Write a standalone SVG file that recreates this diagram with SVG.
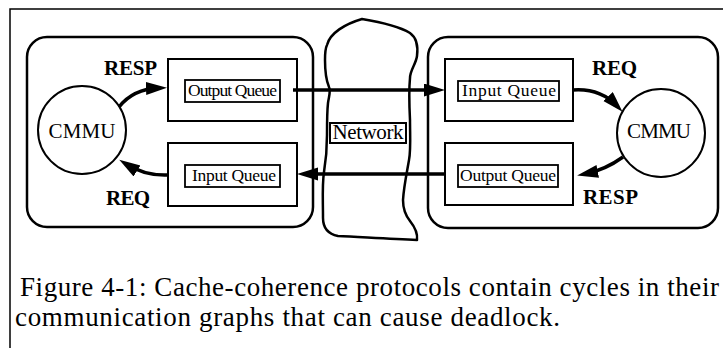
<svg xmlns="http://www.w3.org/2000/svg" width="723" height="348" viewBox="0 0 723 348">
<style>
.frame{fill:none;stroke:#000;stroke-width:1.5}
.group{fill:none;stroke:#000;stroke-width:2.5}
.box{fill:#fff;stroke:#000;stroke-width:2}
.ibox{fill:#fff;stroke:#000;stroke-width:1.8}
.circ{fill:#fff;stroke:#000;stroke-width:2}
.cloud{fill:#fff;stroke:#000;stroke-width:2.5;stroke-linejoin:round}
.conn{fill:none;stroke:#000;stroke-width:3.5;marker-end:url(#ah)}
.lbl{font-family:"Liberation Serif","Times New Roman",serif;font-size:21px;fill:#000;text-anchor:middle}
.bold{font-weight:bold}
.q{font-family:"Liberation Serif","Times New Roman",serif;font-size:17.5px;fill:#000;text-anchor:middle}
.cap{font-family:"Liberation Serif","Times New Roman",serif;font-size:27px;fill:#000}
</style>
<defs>
<marker id="ah" markerUnits="userSpaceOnUse" markerWidth="22" markerHeight="14" refX="13" refY="6.5" orient="auto">
<path d="M0,0 L21,6.5 L0,13 Z" fill="#000"/>
</marker>
</defs>
<rect width="723" height="348" fill="#fff"/>
<path class="frame" d="M10,348 L10,9 L723,9"/>

<g id="left-node">
<rect class="group" x="27" y="37" width="286" height="190" rx="20"/>
</g>
<g id="right-node">
<rect class="group" x="428" y="37" width="290" height="191" rx="20"/>
</g>

<g id="network">
<path class="cloud" d="M327,45 C330,33 345,24 362,19 C380,22 400,27 410,33 C417,38 418,48 417,56 C416,64 410,70 410,78 C409,88 409,100 410,120 C410,135 411,150 409,160 C407,172 404,185 403,200 C403,210 406,216 410,221 C414,226 418,232 417,240 C390,239 360,237 338,236 C328,234 323,228 323,218 C323,200 322,185 324,172 C326,160 327,150 327,135 C327,120 327,112 328,103 C329,96 331,91 329,87 C326,80 325,70 325,60 C325,54 325,49 327,45 Z"/>
<rect class="box" x="330" y="123" width="76" height="20"/>
<text class="lbl" x="368" y="139" textLength="71">Network</text>
</g>

<g id="cmmu-left">
<circle class="circ" cx="82" cy="130" r="44"/>
<text class="lbl" x="82" y="138" textLength="67">CMMU</text>
</g>
<g id="cmmu-right">
<circle class="circ" cx="661" cy="133" r="44"/>
<text class="lbl" x="659" y="138" textLength="64">CMMU</text>
</g>

<g id="left-output-queue">
<rect class="box" x="168" y="59" width="129" height="62"/>
<rect class="ibox" x="185" y="80" width="95" height="22"/>
<text class="q" x="232.5" y="96" textLength="89">Output Queue</text>
</g>
<g id="left-input-queue">
<rect class="box" x="168" y="143" width="129" height="63"/>
<rect class="ibox" x="185" y="165" width="95" height="22"/>
<text class="q" x="234" y="181" textLength="84">Input Queue</text>
</g>
<g id="right-input-queue">
<rect class="box" x="445" y="59" width="128" height="62"/>
<rect class="ibox" x="458" y="81" width="101" height="20"/>
<text class="q" x="509" y="96" textLength="94">Input Queue</text>
</g>
<g id="right-output-queue">
<rect class="box" x="445" y="143" width="128" height="62"/>
<rect class="ibox" x="458" y="165" width="100" height="22"/>
<text class="q" x="508" y="181" textLength="96">Output Queue</text>
</g>

<g id="connectors">
<path class="conn" d="M293,90 L437,90"/>
<path class="conn" d="M445,174 L305,174"/>
<path class="conn" d="M119,107 Q133,89 159,88"/>
<path class="conn" d="M168,175 Q145,176 126,164"/>
<path class="conn" d="M573,90 Q600,88 617,106"/>
<path class="conn" d="M623,157 Q605,170 585,174"/>
</g>

<g id="labels">
<text class="lbl bold" x="130.5" y="75" textLength="53">RESP</text>
<text class="lbl bold" x="128" y="205" textLength="44">REQ</text>
<text class="lbl bold" x="614.5" y="75" textLength="45">REQ</text>
<text class="lbl bold" x="610.5" y="204" textLength="55">RESP</text>
</g>

<g id="caption">
<text class="cap" x="20" y="296" textLength="699">Figure 4-1: Cache-coherence protocols contain cycles in their</text>
<text class="cap" x="15" y="326" textLength="545">communication graphs that can cause deadlock.</text>
</g>
</svg>
